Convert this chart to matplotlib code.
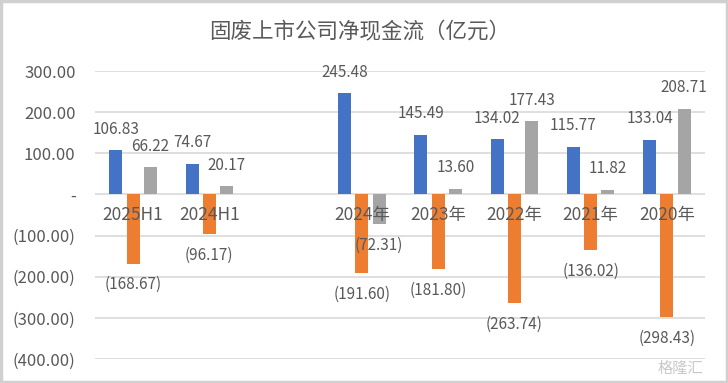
import numpy as np
import matplotlib
matplotlib.use('Agg')
import matplotlib.pyplot as plt
from matplotlib.patches import Rectangle

plt.rcParams['font.family'] = ['Noto Sans CJK SC', 'DejaVu Sans']

title = '固废上市公司净现金流（亿元）'
categories = ['2025H1', '2024H1', '', '2024年', '2023年', '2022年', '2021年', '2020年']
# blue / orange / grey series, gap slot kept empty
s_blue = [106.83, 74.67, np.nan, 245.48, 145.49, 134.02, 115.77, 133.04]
s_orange = [-168.67, -96.17, np.nan, -191.60, -181.80, -263.74, -136.02, -298.43]
s_grey = [66.22, 20.17, np.nan, -72.31, 13.60, 177.43, 11.82, 208.71]
yticks = [300, 200, 100, 0, -100, -200, -300, -400]

colors = ['#4472C4', '#ED7D31', '#A5A5A5']
txt = '#595959'


def fmt(v):
    if v == 0:
        return '-'
    if v < 0:
        return '(%.2f)' % -v
    return '%.2f' % v


fig = plt.figure(figsize=(7.28, 3.83), dpi=100)
ax = fig.add_axes([95/728, 1-359/383, 610/728, 288/383])

x = np.arange(len(categories))
w = 0.17
step = 0.225
for i, (vals, c) in enumerate(zip([s_blue, s_orange, s_grey], colors)):
    xs = x + (i-1)*step
    ax.bar(xs, vals, width=w, color=c, zorder=2)
    for xi, v in zip(xs, vals):
        if np.isnan(v):
            continue
        ax.annotate(fmt(v), (xi, v), xytext=(0, 9 if v > 0 else -9),
                    textcoords='offset points', ha='center',
                    va='bottom' if v > 0 else 'top', fontsize=11, color=txt, zorder=4)

# move x axis to the zero line first (this resets the ticks)
ax.spines['bottom'].set_position(('data', 0))
for s in ax.spines.values():
    s.set_visible(False)

ax.set_xlim(-0.5, len(categories)-0.5)
ax.set_ylim(-400, 300)
ax.set_yticks(yticks)
ax.set_yticklabels([fmt(v) for v in yticks])
ax.set_xticks(x)
ax.set_xticklabels(categories)
ax.tick_params(axis='x', length=0, pad=8, labelsize=12.5, labelcolor=txt)
ax.tick_params(axis='y', length=0, pad=14, labelsize=12, labelcolor=txt)
ax.grid(axis='y', color='#d9d9d9', linewidth=1.2)
ax.set_axisbelow(True)
# category labels sit on top of the bars
ax.xaxis.set_zorder(5)

fig.text(360/728, 1-32/383, title, ha='center', va='center', fontsize=15.5, color=txt)
fig.text(703/728, 1-368/383, '格隆汇', ha='right', va='center', fontsize=11, color='#c8c8c8')
fig.patches.append(Rectangle((0.002, 0.003), 0.996, 0.994, transform=fig.transFigure,
                             fill=False, edgecolor='#d0d0d0', linewidth=2.5))

fig.savefig('out.png', dpi=100)
